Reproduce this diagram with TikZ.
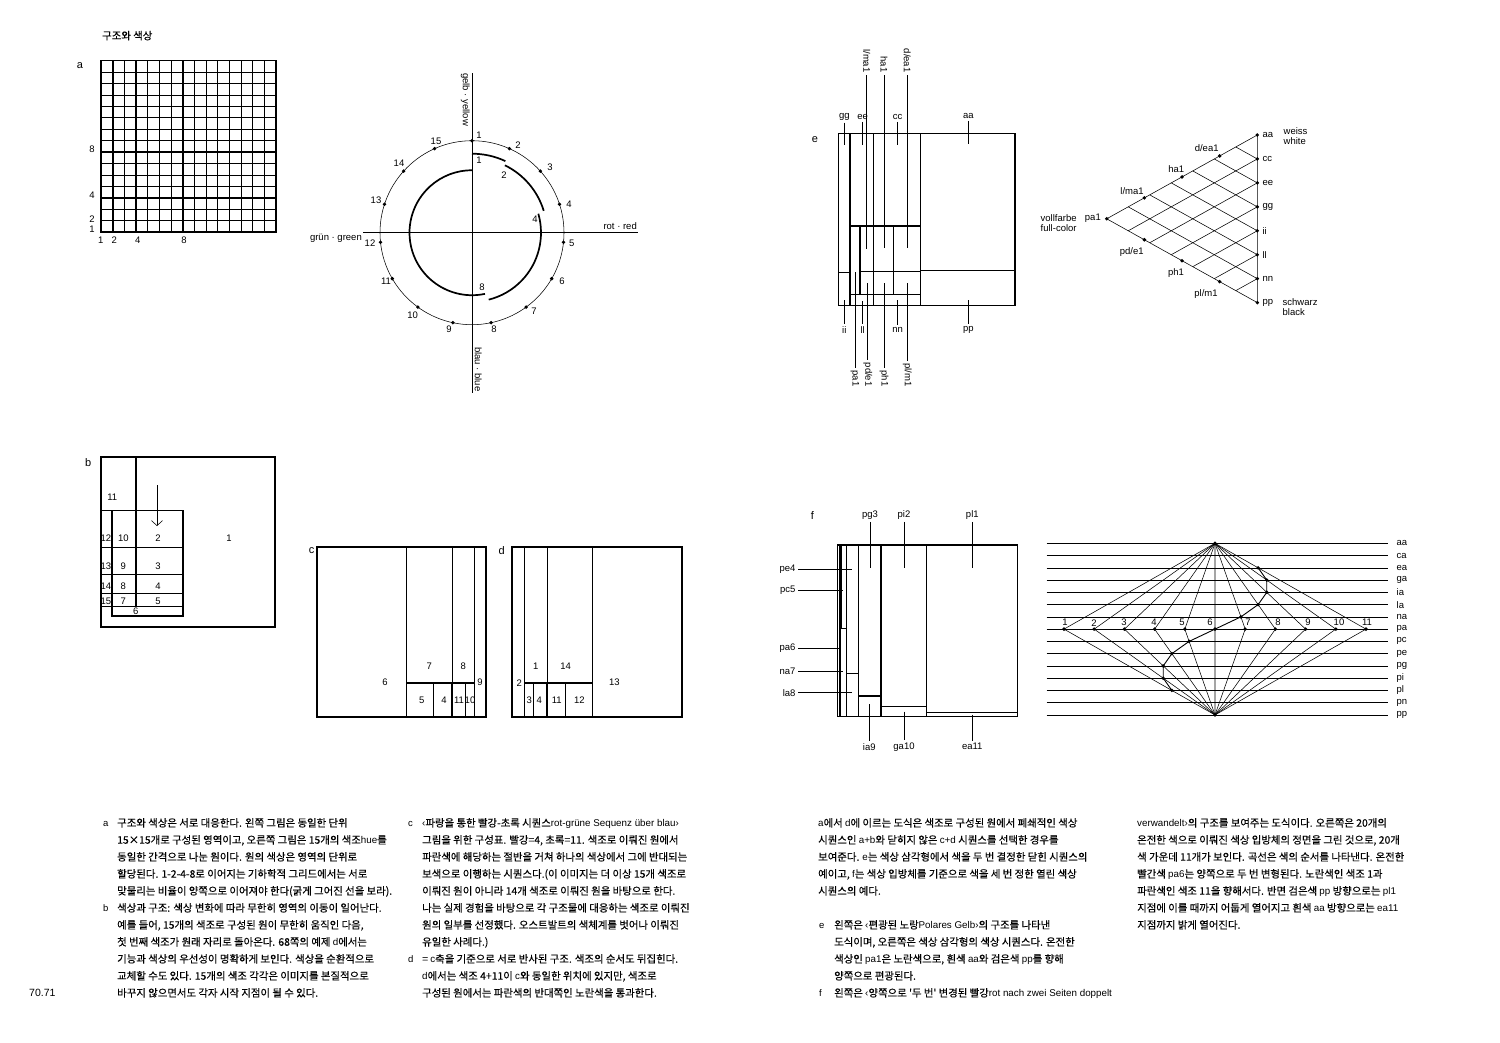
\documentclass[tikz,border=0pt]{standalone}
\usepackage{fontspec}
\setmainfont{Liberation Sans}
\newfontfamily\kr{Noto Sans CJK KR}[FakeBold=0.25]
\usetikzlibrary{calc,arrows.meta}
\newcommand\latn[1]{{\rmfamily\fontsize{9.8}{17}\selectfont #1}}
\tikzset{
  tl/.style={line width=0.55pt},
  tm/.style={line width=1.1pt},
  tk/.style={line width=1.7pt},
  lbl/.style={font=\fontsize{9.5}{11}\selectfont, inner sep=0.5pt},
  elbl/.style={font=\fontsize{9.5}{11}\selectfont, inner sep=0.5pt, outer sep=2pt},
  ldr/.style={line width=0.5pt},
  dot/.style={circle, fill=black, inner sep=0pt, minimum size=3.8pt},
  ktext/.style={anchor=base west, inner sep=0pt, font=\kr\fontsize{10.4}{17}\selectfont},
  ltext/.style={anchor=base west, inner sep=0pt, font=\fontsize{9.5}{17}\selectfont},
  big/.style={font=\fontsize{11}{12}\selectfont, inner sep=0pt},
}
\begin{document}
\begin{tikzpicture}[x=1pt,y=-1pt]
\useasboundingbox (0,0) rectangle (1500,1042);
\fill[white] (0,0) rectangle (1500,1042);

% ---------- title
\node[ktext] (title) at (102,39.5) {구조와 색상};

% ---------- a : grid
\node[big] (la) at (80,66) {a};
\foreach \i in {1,...,14} {
  \draw[tl] ({101+\i*175/15},60.5) -- ({101+\i*175/15},232);
  \draw[tl] (101,{232-\i*171.5/15}) -- (276,{232-\i*171.5/15});
}
\foreach \i in {1,3,7} {
  \draw[tk] ({101+\i*175/15},60.5) -- ({101+\i*175/15},232);
  \draw[tk] (101,{232-\i*171.5/15}) -- (276,{232-\i*171.5/15});
}
\draw[tk] (101,60.5) rectangle (276,232);
\node[lbl] (ga8) at (92,149.7) {8};
\node[lbl] (ga4) at (92,195.7) {4};
\node[lbl] (ga2) at (92,218.7) {2};
\node[lbl] (ga1) at (92,229.3) {1};
\node[lbl] (gb1) at (100.7,240) {1};
\node[lbl] (gb2) at (114.3,240) {2};
\node[lbl] (gb4) at (137.7,240) {4};
\node[lbl] (gb8) at (184,240) {8};

% ---------- circle
\coordinate (C) at (472,232.7);
\draw[tl] (C) circle[radius=92pt];
\coordinate (vt) at (472,73);
\coordinate (vb) at (472,393);
\coordinate (hl) at (363,232.7);
\coordinate (hr) at (638,232.7);
\draw[tl] (vt) -- (vb);
\draw[tl] (hl) -- (hr);
\node[lbl, rotate=-90, anchor=north west, inner sep=0pt] (yel) at (470,73) {gelb · yellow};
\node[lbl, rotate=-90, anchor=south west, inner sep=0pt] (blu) at (474.5,347) {blau · blue};
\node[lbl, anchor=east, inner sep=0pt] (grn) at (362,238.3) {grün · green};
\node[lbl, anchor=east, inner sep=0pt] (red) at (637,225.7) {rot · red};
\foreach \k in {1,...,15} {
  \node[dot] (o\k) at ($(C)+({90-24*(\k-1)}:92pt)$) {};
}
\foreach \k/\x/\y in {1/479/135,2/518/145,3/550/167,4/569/204,5/571.7/243,6/562/281,7/534/311,8/494/329,9/449/329,10/412.7/315,11/386/281.7,12/370/242.7,13/376/200,14/399/163,15/436/141} {
  \node[lbl] (on\k) at (\x,\y) {\k};
}
\draw[tk] ($(C)+(90:79pt)$) arc[start angle=90, end angle=65, radius=79pt];
\draw[tk] ($(C)+(64:75pt)$) arc[start angle=64, end angle=17, radius=75pt];
\draw[tk] ($(C)+(16:69pt)$) arc[start angle=16, end angle=-76, radius=69pt];
\draw[tk] ($(C)+(-78:62.5pt)$) arc[start angle=-78, end angle=-270, radius=62.5pt];
\node[lbl] (in1) at (479,160) {1};
\node[lbl] (in2) at (504,175) {2};
\node[lbl] (in4) at (535,219) {4};
\node[lbl] (in8) at (482,287) {8};

% ---------- e : rectangles
\node[big] (le) at (815,139.3) {e};
\draw[tm] (838.3,133.7) rectangle (1015,305.7);
\draw[tm] (850,133.7) -- (850,305.7);
\draw[tm] (873.3,133.7) -- (873.3,305.7);
\draw[tm] (920.7,133.7) -- (920.7,305.7);
\draw[tm] (920.7,270.7) -- (1015,270.7);
\draw[tm] (838.3,272.3) -- (850,272.3);
\draw[tm] (850,226) -- (920.7,226);
\draw[tm] (860,226) -- (860,295);
\draw[tm] (893.3,226) -- (893.3,294.5);
\draw[tm] (860,271.7) -- (920.7,271.7);
\draw[tm] (850,294.8) -- (920.7,294.8);
% top labels
\foreach \n/\x in {gg/844.3,ee/862.7,cc/897.7} {
  \node[elbl] (e\n) at (\x,116.7) {\n};
  \coordinate (e\n b) at (\x,145);
  \draw[ldr] (e\n) -- (e\n b);
}
\node[elbl] (eaa) at (968.3,115.7) {aa};
\coordinate (eaab) at (968.3,144.3);
\draw[ldr] (eaa) -- (eaab);
\foreach \n/\t/\x/\y in {lma/l\slash ma1/866.7/249,ha/ha1/884/248.3,dea/d\slash ea1/907.3/248.3} {
  \node[elbl, rotate=-90, anchor=east] (e\n) at (\x,75) {\t};
  \coordinate (e\n b) at (\x,\y);
  \draw[ldr] (e\n) -- (e\n b);
}
% bottom labels
\foreach \n/\x/\y in {ii/844.3/300,ll/862.7/301,nn/897.7/300,pp/968.3/300} {
  \node[elbl] (e\n) at (\x,330) {\n};
  \coordinate (e\n t) at (\x,\y);
  \draw[ldr] (e\n t) -- (e\n);
}
\foreach \n/\t/\x/\y in {pa/pa1/855/272.3,pde/pd\slash e1/867.7/283.3,ph/ph1/884/283.3,plm/pl\slash m1/907.3/283.3} {
  \node[elbl, rotate=-90, anchor=east] (e\n) at (\x,389) {\t};
  \coordinate (e\n t) at (\x,\y);
  \draw[ldr] (e\n t) -- (e\n);
}

% ---------- triangle
\coordinate (P) at (1106.7,218.8);
\coordinate (A) at (1257.3,135);
\coordinate (B) at (1257.3,302.6);
\draw[tl] (P) -- (A) -- (B) -- cycle;
\foreach \k in {1,...,6} {
  \draw[tl] ($(P)!{\k/7}!(B)$) -- ($(A)!{\k/7}!(B)$);
  \draw[tl] ($(P)!{\k/7}!(A)$) -- ($(A)!{(7-\k)/7}!(B)$);
}
\foreach \n [count=\j from 0] in {aa,cc,ee,gg,ii,ll,nn,pp} {
  \node[dot] (v\n) at ($(A)!{\j/7}!(B)$) {};
  \node[lbl, anchor=west] (vl\n) at ($(A)!{\j/7}!(B)+(4.5pt,0)$) {\n};
}
\node[dot] (tpa) at (P) {};
\node[dot] (tlma) at ($(P)!0.25!(A)$) {};
\node[dot] (tha) at ($(P)!0.5!(A)$) {};
\node[dot] (tdea) at ($(P)!0.75!(A)$) {};
\node[dot] (tpde) at ($(P)!0.25!(B)$) {};
\node[dot] (tph) at ($(P)!0.5!(B)$) {};
\node[dot] (tplm) at ($(P)!0.75!(B)$) {};
\node[lbl, anchor=east] (tlpa) at (1101.5,218.3) {pa1};
\node[lbl, anchor=west] (tvoll) at (1040,218.3) {vollfarbe};
\node[lbl, anchor=west] (tfull) at (1040,227.8) {full-color};
\node[lbl] (tllma) at (1132,190.7) {l/ma1};
\node[lbl] (tlha) at (1176.3,169.3) {ha1};
\node[lbl] (tldea) at (1206.7,148.3) {d/ea1};
\node[lbl] (tlpde) at (1131.7,251.7) {pd/e1};
\node[lbl] (tlph) at (1176,273.3) {ph1};
\node[lbl] (tlplm) at (1206,294.3) {pl/m1};
\node[lbl, anchor=west] (twe) at (1283,131.5) {weiss};
\node[lbl, anchor=west] (twh) at (1283,141) {white};
\node[lbl, anchor=west] (tsw) at (1282,302.5) {schwarz};
\node[lbl, anchor=west] (tbl) at (1282,312) {black};

% ---------- b
\node[big] (lb) at (88.3,462.7) {b};
\draw[tk] (100.7,456.7) rectangle (275.3,627.3);
\draw[tk] (136,456.7) -- (136,606.5);
\draw[tk] (112.3,510) -- (112.3,616) -- (182.7,616) -- (182.7,510);
\foreach \y in {510,547.3,574,593.3,606} { \draw[tl] (100.7,\y) -- (182.7,\y); }
\coordinate (arT) at (157,485);
\coordinate (arB) at (157,526);
\draw[tl, -{Straight Barb[length=5pt,width=11pt]}] (arT) -- (arB);
\foreach \t/\x/\y in {11/112.3/497.7,10/123.3/538.3,2/158/538.3,1/229/538.3,9/123.3/566,3/158/566,8/123.3/586,4/158/586,7/123.3/601,5/158/601,6/135.7/611.5,12/106/538.3,13/106/566,14/106/586,15/106/601} {
  \node[lbl] (b\t) at (\x,\y) {\t};
}

% ---------- c
\node[big] (lc) at (311.7,551) {c};
\draw[tk] (316.7,546.7) rectangle (485.7,716.7);
\foreach \x in {406.7,452,474.3} { \draw[tl] (\x,546.7) -- (\x,716.7); }
\draw[tk] (406.7,682.7) -- (474.3,682.7);
\foreach \x in {433.3,465.7} { \draw[tl] (\x,682.7) -- (\x,716.7); }
\draw[tk] (452,682.7) -- (452,716.7);
\foreach \t/\x/\y in {6/385/682.7,7/429.3/666.7,8/463.3/666.7,9/480/682.7,5/421.7/700,4/444/700,11/459/700,10/470/700} {
  \node[lbl] (c\t) at (\x,\y) {\t};
}

% ---------- d
\node[big] (ld) at (501.7,551) {d};
\draw[tk] (512.3,546.7) rectangle (682,716.7);
\foreach \x in {524.3,547.3,592.3} { \draw[tl] (\x,546.7) -- (\x,716.7); }
\draw[tk] (524.3,682.7) -- (592.3,682.7);
\foreach \x in {533.3,565.7} { \draw[tl] (\x,682.7) -- (\x,716.7); }
\draw[tk] (547.3,682.7) -- (547.3,716.7);
\foreach \t/\x/\y in {2/519.3/682.7,1/535.7/666,14/565.7/666,13/614.3/682.7,3/529.3/700,4/539.3/700,11/556.7/700,12/579.3/700} {
  \node[lbl] (d\t) at (\x,\y) {\t};
}

% ---------- f : rectangles
\node[big] (lf) at (812.3,516) {f};
\draw[tm] (837.3,545) rectangle (1017.7,716.7);
\draw[tm] (840,545) -- (840,716.7);
\draw[tm] (841.7,545) -- (841.7,628.3) -- (846.7,628.3);
\draw[tm] (846.7,545) -- (846.7,716.7);
\draw[tm] (846.7,673.3) -- (858.3,673.3);
\draw[tm] (858.3,545) -- (858.3,716.7);
\draw[tm] (858.3,696) -- (881,696);
\draw[tm] (881,545) -- (881,716.7);
\draw[tm] (881,706.7) -- (926.7,706.7);
\draw[tm] (926.7,545) -- (926.7,716.7);
\draw[tm] (926.7,712.5) -- (1017.7,712.5);
\foreach \n/\t/\x in {pg/pg3/870,pi/pi2/904,pl/pl1/972.3} {
  \node[elbl] (f\n) at (\x,515) {\t};
  \coordinate (f\n b) at (\x,568.3);
  \draw[ldr] (f\n) -- (f\n b);
}
\foreach \n/\t/\x/\y in {pe/pe4/851.7/569,pc/pc5/843.3/590,pa/pa6/839.3/648.3,na/na7/843.3/671,la/la8/851.7/692.7} {
  \node[elbl, anchor=east] (f\n) at (798,\y) {\t};
  \coordinate (f\n b) at (\x,\y);
  \draw[ldr] (f\n) -- (f\n b);
}
\foreach \n/\t/\x/\y in {ia/ia9/869.3/704,ga/ga10/904/711.5,ea/ea11/972.3/714.5} {
  \node[elbl] (f\n) at (\x,746.7) {\t};
  \coordinate (f\n t) at (\x,\y);
  \draw[ldr] (f\n t) -- (f\n);
}

% ---------- f : cube front
\foreach \n [count=\i from 0] in {aa,ca,ea,ga,ia,la,na,pa,pc,pe,pg,pi,pl,pn,pp} {
  \coordinate (hs\i) at (1046.7,{543.3+12.26*\i});
  \coordinate (he\i) at (1388.3,{543.3+12.26*\i});
  \draw[tl] (hs\i) -- (he\i);
  \node[lbl, anchor=west] (hn\i) at (1396,{543.3+12.26*\i}) {\n};
}
\coordinate (T) at (1215,543.3);
\coordinate (Bt) at (1215,714.94);
\foreach \k in {1,...,11} {
  \coordinate (Q\k) at ({1064+30.2*(\k-1)},629.12);
  \draw[tl] (T) -- (Q\k) -- (Bt);
}
\coordinate (s7) at ($(T)!{6/7}!(Q7)$);
\coordinate (s8) at ($(T)!{5/7}!(Q8)$);
\coordinate (s9) at ($(T)!{4/7}!(Q9)$);
\coordinate (s10) at ($(T)!{3/7}!(Q10)$);
\coordinate (s11) at ($(T)!{2/7}!(Q11)$);
\coordinate (s5) at ($(Q5)!{1/7}!(Bt)$);
\coordinate (s4) at ($(Q4)!{2/7}!(Bt)$);
\coordinate (s3) at ($(Q3)!{3/7}!(Bt)$);
\coordinate (s2) at ($(Q2)!{4/7}!(Bt)$);
\coordinate (s1) at ($(Q1)!{5/7}!(Bt)$);
\draw[line width=0.9pt] (s1) -- (s2) -- (s3) -- (s4) -- (s5) -- (Q6) -- (s7) -- (s8) -- (s9) -- (s10) -- (s11);
\foreach \k in {1,...,11} { \node[dot] (qd\k) at (Q\k) {}; }
\foreach \k in {1,2,3,4,5,7,8,9,10,11} { \node[dot] (sd\k) at (s\k) {}; }
\node[dot] (Td) at (T) {};
\node[dot] (Bd) at (Bt) {};
\foreach \k/\x in {1/1065,2/1094,3/1124,4/1154,5/1182,6/1210,7/1248,8/1278,9/1308,10/1339,11/1367} {
  \node[lbl] (qn\k) at (\x,622.7) {\k};
}

% ---------- texts
\node[ltext] (ta) at (103,826.7) {a};
\node[ltext] (tb) at (103,911.7) {b};
\node[ktext] (t11) at (117,826.7) {구조와 색상은 서로 대응한다. 왼쪽 그림은 동일한 단위};
\node[ktext] (t12) at (117,843.7) {15×15개로 구성된 영역이고, 오른쪽 그림은 15개의 색조\latn{hue}를};
\node[ktext] (t13) at (117,860.7) {동일한 간격으로 나눈 원이다. 원의 색상은 영역의 단위로};
\node[ktext] (t14) at (117,877.7) {할당된다. 1-2-4-8로 이어지는 기하학적 그리드에서는 서로};
\node[ktext] (t15) at (117,894.7) {맞물리는 비율이 양쪽으로 이어져야 한다(굵게 그어진 선을 보라).};
\node[ktext] (t16) at (117,911.7) {색상과 구조: 색상 변화에 따라 무한히 영역의 이동이 일어난다.};
\node[ktext] (t17) at (117,928.7) {예를 들어, 15개의 색조로 구성된 원이 무한히 움직인 다음,};
\node[ktext] (t18) at (117,945.7) {첫 번째 색조가 원래 자리로 돌아온다. 68쪽의 예제 \latn{d}에서는};
\node[ktext] (t19) at (117,962.7) {기능과 색상의 우선성이 명확하게 보인다. 색상을 순환적으로};
\node[ktext] (t110) at (117,979.7) {교체할 수도 있다. 15개의 색조 각각은 이미지를 본질적으로};
\node[ktext] (t111) at (117,996.7) {바꾸지 않으면서도 각자 시작 지점이 될 수 있다.};
\node[anchor=base west, inner sep=0pt, font=\fontsize{10.5}{12}\selectfont] (pgn) at (29,996.7) {70.71};

\node[ltext] (tc) at (408,826.7) {c};
\node[ltext] (td) at (408,962.7) {d};
\node[ktext] (t21) at (422,826.7) {\latn{‹}파랑을 통한 빨강-초록 시퀀스\latn{rot-grüne Sequenz über blau›}};
\node[ktext] (t22) at (422,843.7) {그림을 위한 구성표. 빨강=4, 초록=11. 색조로 이뤄진 원에서};
\node[ktext] (t23) at (422,860.7) {파란색에 해당하는 절반을 거쳐 하나의 색상에서 그에 반대되는};
\node[ktext] (t24) at (422,877.7) {보색으로 이행하는 시퀀스다.(이 이미지는 더 이상 15개 색조로};
\node[ktext] (t25) at (422,894.7) {이뤄진 원이 아니라 14개 색조로 이뤄진 원을 바탕으로 한다.};
\node[ktext] (t26) at (422,911.7) {나는 실제 경험을 바탕으로 각 구조물에 대응하는 색조로 이뤄진};
\node[ktext] (t27) at (422,928.7) {원의 일부를 선정했다. 오스트발트의 색체계를 벗어나 이뤄진};
\node[ktext] (t28) at (422,945.7) {유일한 사례다.)};
\node[ktext] (t29) at (422,962.7) {= \latn{c}축을 기준으로 서로 반사된 구조. 색조의 순서도 뒤집힌다.};
\node[ktext] (t210) at (422,979.7) {\latn{d}에서는 색조 4+11이 \latn{c}와 동일한 위치에 있지만, 색조로};
\node[ktext] (t211) at (422,996.7) {구성된 원에서는 파란색의 반대쪽인 노란색을 통과한다.};

\node[ktext] (t31) at (818,826.7) {\latn{a}에서 \latn{d}에 이르는 도식은 색조로 구성된 원에서 폐쇄적인 색상};
\node[ktext] (t32) at (818,843.7) {시퀀스인 \latn{a+b}와 닫히지 않은 \latn{c+d} 시퀀스를 선택한 경우를};
\node[ktext] (t33) at (818,860.7) {보여준다. \latn{e}는 색상 삼각형에서 색을 두 번 결정한 닫힌 시퀀스의};
\node[ktext] (t34) at (818,877.7) {예이고, \latn{f}는 색상 입방체를 기준으로 색을 세 번 정한 열린 색상};
\node[ktext] (t35) at (818,894.7) {시퀀스의 예다.};
\node[ltext] (te) at (819,928.7) {e};
\node[ltext] (tf) at (819,996.7) {f};
\node[ktext] (t37) at (834,928.7) {왼쪽은 \latn{‹}편광된 노랑\latn{Polares Gelb›}의 구조를 나타낸};
\node[ktext] (t38) at (834,945.7) {도식이며, 오른쪽은 색상 삼각형의 색상 시퀀스다. 온전한};
\node[ktext] (t39) at (834,962.7) {색상인 \latn{pa1}은 노란색으로, 흰색 \latn{aa}와 검은색 \latn{pp}를 향해};
\node[ktext] (t310) at (834,979.7) {양쪽으로 편광된다.};
\node[ktext] (t311) at (834,996.7) {왼쪽은 \latn{‹}양쪽으로 '두 번' 변경된 빨강\latn{rot nach zwei Seiten doppelt}};

\node[ktext] (t41) at (1137,826.7) {\latn{verwandelt›}의 구조를 보여주는 도식이다. 오른쪽은 20개의};
\node[ktext] (t42) at (1137,843.7) {온전한 색으로 이뤄진 색상 입방체의 정면을 그린 것으로, 20개};
\node[ktext] (t43) at (1137,860.7) {색 가운데 11개가 보인다. 곡선은 색의 순서를 나타낸다. 온전한};
\node[ktext] (t44) at (1137,877.7) {빨간색 \latn{pa6}는 양쪽으로 두 번 변형된다. 노란색인 색조 1과};
\node[ktext] (t45) at (1137,894.7) {파란색인 색조 11을 향해서다. 반면 검은색 \latn{pp} 방향으로는 \latn{pl1}};
\node[ktext] (t46) at (1137,911.7) {지점에 이를 때까지 어둡게 열어지고 흰색 \latn{aa} 방향으로는 \latn{ea11}};
\node[ktext] (t47) at (1137,928.7) {지점까지 밝게 열어진다.};
\end{tikzpicture}
\end{document}
